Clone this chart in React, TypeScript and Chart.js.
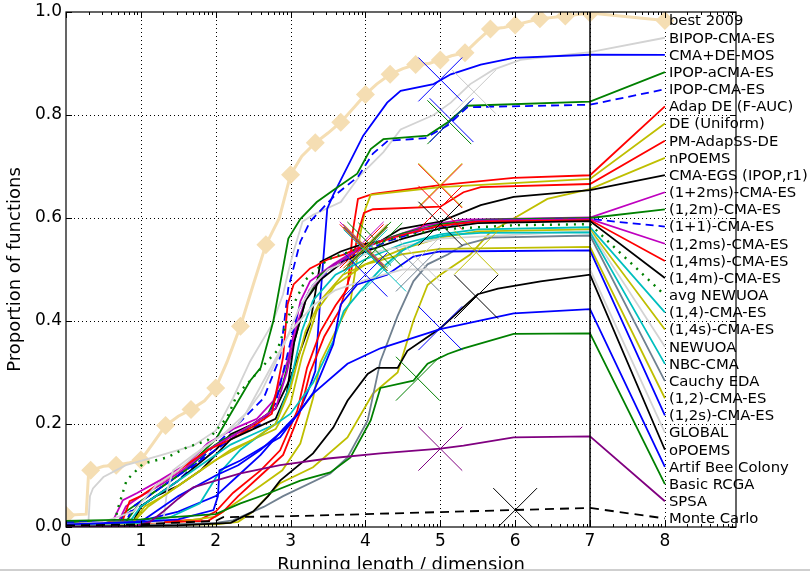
import React, { useEffect, useRef } from "react";
import { Chart, registerables } from "chart.js";
Chart.register(...registerables);

const FONT = "'DejaVu Sans', 'Liberation Sans', sans-serif";

const algorithms = [
  "best 2009", "BIPOP-CMA-ES", "CMA+DE-MOS", "IPOP-aCMA-ES", "IPOP-CMA-ES",
  "Adap DE (F-AUC)", "DE (Uniform)", "PM-AdapSS-DE", "nPOEMS", "CMA-EGS (IPOP,r1)",
  "(1+2ms)-CMA-ES", "(1,2m)-CMA-ES", "(1+1)-CMA-ES", "(1,2ms)-CMA-ES", "(1,4ms)-CMA-ES",
  "(1,4m)-CMA-ES", "avg NEWUOA", "(1,4)-CMA-ES", "(1,4s)-CMA-ES", "NEWUOA",
  "NBC-CMA", "Cauchy EDA", "(1,2)-CMA-ES", "(1,2s)-CMA-ES", "GLOBAL",
  "oPOEMS", "Artif Bee Colony", "Basic RCGA", "SPSA", "Monte Carlo",
];

const xTicks = [0, 1, 2, 3, 4, 5, 6, 7, 8];
const yTicks = [0, 0.2, 0.4, 0.6, 0.8, 1.0];

const best2009 = [[0,0.023],[0.27,0.025],[0.3,0.10],[0.33,0.11],[0.5,0.118],[0.67,0.12],[0.85,0.125],[1.0,0.13],[1.15,0.16],[1.33,0.197],[1.5,0.215],[1.67,0.228],[1.85,0.245],[2.0,0.27],[2.15,0.32],[2.33,0.39],[2.5,0.47],[2.67,0.548],[2.85,0.6],[3.0,0.684],[3.15,0.72],[3.33,0.746],[3.5,0.765],[3.67,0.786],[3.85,0.815],[4.0,0.84],[4.15,0.86],[4.33,0.879],[4.5,0.89],[4.67,0.898],[4.85,0.9],[5.0,0.907],[5.15,0.915],[5.33,0.921],[5.5,0.945],[5.67,0.967],[5.85,0.97],[6.0,0.975],[6.33,0.987],[6.67,0.992],[7.0,0.998]];
const bipop = [[0,0.01],[0.3,0.01],[0.32,0.06],[0.36,0.075],[0.5,0.097],[0.8,0.12],[1.26,0.139],[1.7,0.158],[2.0,0.187],[2.23,0.25],[2.46,0.322],[2.75,0.393],[2.9,0.452],[2.97,0.496],[3.04,0.535],[3.16,0.593],[3.3,0.606],[3.67,0.631],[3.93,0.683],[4.24,0.728],[4.47,0.772],[4.91,0.8],[5.14,0.824],[5.4,0.86],[5.71,0.888],[6.07,0.907],[7,0.922]];
const cmaDeMos = [[0,0.01],[1.0,0.012],[1.5,0.03],[2.0,0.06],[2.3,0.1],[2.6,0.14],[2.9,0.19],[3.1,0.22],[3.25,0.27],[3.33,0.303],[3.4,0.45],[3.49,0.618],[3.57,0.645],[3.97,0.76],[4.29,0.824],[4.47,0.847],[4.91,0.86],[5.14,0.879],[5.54,0.898],[5.98,0.911],[7,0.917]];
const ipopACma = [[0,0.01],[0.7,0.01],[0.8,0.03],[1.0,0.05],[1.5,0.1],[2.0,0.17],[2.2,0.22],[2.46,0.284],[2.6,0.309],[2.77,0.4],[2.82,0.44],[2.97,0.56],[3.13,0.598],[3.35,0.631],[3.57,0.654],[3.89,0.686],[4.07,0.734],[4.24,0.753],[4.83,0.76],[5.1,0.786],[5.36,0.818],[7,0.826]];
const ipopCma = [[0,0.01],[0.7,0.01],[0.8,0.025],[1.0,0.04],[1.5,0.09],[2.0,0.16],[2.3,0.2],[2.64,0.25],[2.86,0.33],[2.97,0.464],[3.13,0.554],[3.26,0.593],[3.5,0.63],[3.6,0.645],[3.9,0.68],[4.1,0.725],[4.3,0.75],[4.8,0.755],[5.1,0.78],[5.36,0.815],[7,0.82]];
const adapDe = [[0,0.005],[1.0,0.008],[1.8,0.015],[2.0,0.03],[2.23,0.066],[2.6,0.11],[2.86,0.149],[3.09,0.226],[3.22,0.309],[3.4,0.38],[3.6,0.43],[3.76,0.463],[3.83,0.573],[3.9,0.637],[4.1,0.647],[5.0,0.664],[5.98,0.678],[7,0.683]];
const deUniform = [[0,0.005],[1.5,0.01],[2.0,0.02],[2.3,0.05],[2.6,0.08],[2.89,0.11],[3.13,0.162],[3.3,0.25],[3.4,0.32],[3.6,0.38],[3.8,0.438],[3.87,0.502],[3.93,0.568],[4.0,0.618],[4.07,0.645],[5.0,0.66],[7,0.676]];
const pmAdapSs = [[0,0.005],[1.0,0.008],[1.9,0.012],[2.1,0.03],[2.3,0.06],[2.6,0.1],[2.9,0.14],[3.12,0.22],[3.26,0.3],[3.45,0.37],[3.65,0.42],[3.8,0.49],[3.9,0.57],[3.98,0.61],[4.1,0.617],[5.0,0.622],[5.31,0.65],[5.54,0.66],[7,0.666]];
const nPoems = [[0,0.002],[1.0,0.004],[2.0,0.005],[2.3,0.01],[2.5,0.03],[2.86,0.085],[3.3,0.116],[3.76,0.174],[4.1,0.259],[4.43,0.3],[4.64,0.4],[4.83,0.47],[5.0,0.49],[5.4,0.529],[5.67,0.573],[5.98,0.599],[6.43,0.637],[7,0.656]];
const cmaEgs = [[0,0.005],[0.9,0.01],[1.0,0.04],[1.5,0.09],[2.0,0.15],[2.2,0.18],[2.5,0.2],[2.8,0.23],[3.0,0.29],[3.15,0.35],[3.26,0.394],[3.4,0.515],[3.67,0.535],[3.93,0.548],[4.2,0.555],[4.47,0.579],[5.0,0.593],[5.54,0.625],[5.98,0.641],[7,0.654]];
const cma1p2ms = [[0,0.005],[0.6,0.01],[0.63,0.013],[0.76,0.052],[0.95,0.066],[1.26,0.091],[1.62,0.123],[1.89,0.162],[2.23,0.19],[2.55,0.21],[2.77,0.245],[2.96,0.322],[3.04,0.374],[3.13,0.438],[3.26,0.477],[3.57,0.51],[3.84,0.535],[4.29,0.56],[4.8,0.585],[5.3,0.597],[7,0.601]];
const cma12m = [[0,0.005],[0.8,0.01],[1.0,0.05],[1.3,0.08],[1.6,0.11],[1.9,0.15],[2.1,0.17],[2.4,0.19],[2.7,0.22],[2.9,0.28],[3.05,0.36],[3.2,0.44],[3.4,0.49],[3.7,0.52],[4.0,0.545],[4.5,0.57],[5.0,0.588],[5.6,0.597],[7,0.6]];
const cma1p1 = [[0,0.005],[0.8,0.01],[0.9,0.04],[1.2,0.07],[1.5,0.1],[1.8,0.13],[2.0,0.15],[2.3,0.18],[2.6,0.2],[2.8,0.24],[2.95,0.33],[3.1,0.42],[3.3,0.47],[3.6,0.51],[3.9,0.53],[4.3,0.555],[4.8,0.578],[5.5,0.595],[7,0.598]];
const cma12ms = [[0,0.005],[0.7,0.01],[0.8,0.04],[1.0,0.06],[1.3,0.085],[1.6,0.115],[1.9,0.15],[2.2,0.175],[2.5,0.2],[2.8,0.23],[2.95,0.3],[3.1,0.4],[3.25,0.46],[3.5,0.5],[3.8,0.53],[4.2,0.555],[4.8,0.58],[5.5,0.595],[7,0.598]];
const cma14ms = [[0,0.005],[0.75,0.01],[0.85,0.05],[1.0,0.06],[1.3,0.09],[1.6,0.12],[1.9,0.15],[2.2,0.17],[2.5,0.195],[2.75,0.22],[2.9,0.33],[2.96,0.432],[3.04,0.471],[3.26,0.502],[3.49,0.519],[3.71,0.529],[3.89,0.541],[4.2,0.554],[4.5,0.567],[5.0,0.585],[5.5,0.593],[7,0.596]];
const cma14m = [[0,0.005],[0.9,0.01],[1.0,0.04],[1.2,0.06],[1.5,0.08],[1.8,0.11],[2.0,0.14],[2.2,0.17],[2.5,0.19],[2.8,0.21],[2.95,0.26],[3.05,0.36],[3.2,0.44],[3.4,0.48],[3.7,0.515],[4.0,0.535],[4.5,0.56],[5.0,0.58],[5.5,0.59],[7,0.594]];
const avgNewuoa = [[0,0.005],[0.65,0.01],[0.7,0.039],[0.81,0.091],[1.03,0.123],[1.35,0.135],[1.62,0.155],[1.89,0.168],[2.15,0.212],[2.29,0.258],[2.46,0.284],[2.69,0.322],[2.82,0.342],[3.0,0.42],[3.2,0.48],[3.5,0.52],[4.0,0.545],[4.5,0.565],[5.0,0.578],[6.0,0.586],[7,0.588]];
const cma14 = [[0,0.005],[0.85,0.01],[1.0,0.04],[1.3,0.07],[1.6,0.1],[1.9,0.13],[2.2,0.16],[2.5,0.18],[2.8,0.2],[3.0,0.28],[3.15,0.38],[3.3,0.44],[3.6,0.49],[4.0,0.52],[4.5,0.55],[5.0,0.568],[5.5,0.578],[7,0.582]];
const cma14s = [[0,0.005],[0.9,0.01],[1.05,0.04],[1.3,0.06],[1.6,0.09],[1.9,0.12],[2.2,0.15],[2.5,0.17],[2.8,0.19],[3.0,0.24],[3.15,0.33],[3.35,0.42],[3.6,0.47],[4.0,0.51],[4.5,0.54],[5.0,0.562],[5.5,0.574],[7,0.578]];
const newuoa = [[0,0.005],[1.3,0.01],[1.35,0.07],[1.43,0.11],[1.7,0.14],[2.0,0.17],[2.3,0.2],[2.6,0.26],[2.9,0.35],[3.1,0.42],[3.3,0.47],[3.5,0.5],[4.0,0.53],[5.0,0.56],[7,0.575]];
const nbcCma = [[0,0.005],[1.0,0.008],[1.39,0.019],[1.79,0.046],[2.02,0.1],[2.33,0.15],[2.7,0.19],[3.0,0.22],[3.3,0.28],[3.57,0.361],[3.71,0.419],[3.93,0.458],[4.2,0.5],[4.47,0.535],[4.78,0.558],[5.1,0.567],[5.54,0.571],[7,0.572]];
const cauchyEda = [[0,0.002],[1.0,0.003],[2.0,0.008],[2.23,0.013],[2.64,0.039],[2.9,0.06],[3.53,0.104],[3.76,0.135],[4.03,0.207],[4.2,0.322],[4.43,0.41],[4.64,0.477],[4.83,0.51],[5.1,0.529],[5.31,0.548],[5.67,0.562],[7,0.566]];
const cma12 = [[0,0.005],[0.9,0.01],[1.1,0.04],[1.5,0.08],[2.0,0.13],[2.5,0.17],[2.8,0.2],[3.0,0.27],[3.2,0.38],[3.4,0.44],[3.7,0.49],[4.0,0.51],[4.5,0.53],[5.0,0.54],[7,0.544]];
const cma12s = [[0,0.005],[1.0,0.01],[1.2,0.03],[1.5,0.06],[2.0,0.1],[2.3,0.12],[2.6,0.15],[3.0,0.2],[3.3,0.26],[3.44,0.309],[3.57,0.355],[3.67,0.432],[3.89,0.471],[4.29,0.49],[4.64,0.525],[5.0,0.535],[7,0.537]];
const globalAlg = [[0,0.005],[0.5,0.01],[0.9,0.03],[1.2,0.08],[1.5,0.11],[1.8,0.15],[2.1,0.18],[2.4,0.22],[2.7,0.3],[3.0,0.38],[3.3,0.43],[3.6,0.46],[4.0,0.48],[4.5,0.5],[7,0.5]];
const oPoems = [[0,0.0],[1.5,0.003],[2.2,0.008],[2.5,0.03],[2.7,0.06],[2.86,0.09],[3.3,0.143],[3.57,0.193],[3.76,0.245],[4.03,0.297],[4.16,0.309],[4.43,0.309],[4.56,0.342],[5.0,0.386],[5.5,0.452],[5.77,0.463],[6.34,0.477],[7,0.49]];
const beeColony = [[0,0.005],[1.0,0.01],[1.5,0.015],[1.97,0.033],[2.03,0.06],[2.05,0.11],[2.33,0.129],[2.69,0.16],[2.86,0.174],[3.3,0.259],[3.76,0.317],[4.2,0.347],[5.0,0.384],[5.98,0.415],[7,0.423]];
const basicRcga = [[0,0.012],[1.0,0.015],[2.0,0.025],[2.33,0.046],[2.7,0.065],[3.13,0.09],[3.53,0.106],[3.8,0.135],[4.07,0.207],[4.2,0.27],[4.64,0.284],[4.83,0.317],[5.1,0.336],[5.31,0.347],[5.98,0.375],[7,0.376]];
const spsa = [[0,0.0],[0.9,0.0],[1.0,0.005],[1.12,0.01],[1.3,0.03],[1.5,0.055],[1.7,0.077],[2.02,0.091],[2.33,0.104],[2.86,0.12],[3.5,0.133],[4.2,0.143],[5.0,0.152],[5.31,0.158],[5.98,0.174],[7,0.176]];
const monteCarlo = [[0,0.003],[1.0,0.005],[2.0,0.012],[2.1,0.019],[3.0,0.021],[4.0,0.025],[5.0,0.029],[6.0,0.033],[7,0.037]];

const seriesValues = [
  best2009, bipop, cmaDeMos, ipopACma, ipopCma, adapDe, deUniform, pmAdapSs, nPoems, cmaEgs,
  cma1p2ms, cma12m, cma1p1, cma12ms, cma14ms, cma14m, avgNewuoa, cma14, cma14s, newuoa,
  nbcCma, cauchyEda, cma12, cma12s, globalAlg, oPoems, beeColony, basicRcga, spsa, monteCarlo,
];

// median of maximal run length marker per algorithm (x, y), null if none
const crossMarks = [
  null, [5.45,0.845], [5.0,0.869], [5.12,0.786], [5.15,0.79], [5.0,0.662], [5.0,0.664], [5.0,0.62], [5.48,0.533], [5.0,0.589],
  [3.95,0.55], [4.2,0.548], [4.0,0.54], [4.0,0.545], [3.95,0.545], [4.0,0.54], [4.05,0.55], [4.25,0.5], [4.0,0.545], [4.7,0.52],
  [4.0,0.535], [4.7,0.5], [4.0,0.54], [4.0,0.49], null, [5.48,0.447], [5.0,0.386], [4.7,0.288], [5.0,0.152], [6.0,0.033],
];

const colors = [
  "#F5DEB3", "#D3D3D3", "#0000FF", "#008000", "#0000FF", "#FF0000", "#BFBF00", "#FF0000", "#BFBF00", "#000000",
  "#BF00BF", "#008000", "#0000FF", "#BF00BF", "#FF0000", "#000000", "#008000", "#00BFBF", "#BFBF00", "#D3D3D3",
  "#00BFBF", "#708090", "#BFBF00", "#0000FF", "#D3D3D3", "#000000", "#0000FF", "#008000", "#800080", "#000000",
];
const dashStyles: Record<number, number[]> = { 4: [8, 5], 12: [8, 5], 16: [2, 6], 29: [9, 6] };

const isThird = (v: number) => Math.abs(v * 3 - Math.round(v * 3)) < 0.03;

const decor = {
  id: "decor",
  beforeDatasetsDraw(chart: any) {
    const { ctx, chartArea: a, scales } = chart;
    const x = scales.x, y = scales.y;
    ctx.save();
    ctx.strokeStyle = "#000";
    ctx.lineWidth = 1;
    ctx.setLineDash([1, 3]);
    for (const v of xTicks) {
      if (v === 0) continue;
      const px = Math.round(x.getPixelForValue(v)) + 0.5;
      ctx.beginPath(); ctx.moveTo(px, a.top); ctx.lineTo(px, a.bottom); ctx.stroke();
    }
    for (const v of yTicks) {
      if (v === 0 || v === 1) continue;
      const py = Math.round(y.getPixelForValue(v)) + 0.5;
      ctx.beginPath(); ctx.moveTo(a.left, py); ctx.lineTo(a.right, py); ctx.stroke();
    }
    ctx.restore();
  },
  afterDatasetsDraw(chart: any) {
    const { ctx, chartArea: a, scales } = chart;
    const x = scales.x, y = scales.y;
    ctx.save();
    ctx.strokeStyle = "#000";
    ctx.setLineDash([]);
    ctx.lineWidth = 1.5;
    const p7 = x.getPixelForValue(7);
    ctx.beginPath(); ctx.moveTo(p7, a.top); ctx.lineTo(p7, a.bottom); ctx.stroke();
    ctx.lineWidth = 1.2;
    ctx.strokeRect(a.left, a.top, a.right - a.left, a.bottom - a.top);
    ctx.lineWidth = 1;
    const xmax = x.max;
    for (let n = 0; n <= 8; n++) {
      const pm = Math.round(x.getPixelForValue(n)) + 0.5;
      ctx.beginPath();
      ctx.moveTo(pm, a.bottom); ctx.lineTo(pm, a.bottom - 6);
      ctx.moveTo(pm, a.top); ctx.lineTo(pm, a.top + 6);
      ctx.stroke();
      for (let k = 2; k <= 9; k++) {
        const v = n + Math.log10(k);
        if (v >= xmax) break;
        const pn = Math.round(x.getPixelForValue(v)) + 0.5;
        ctx.beginPath();
        ctx.moveTo(pn, a.bottom); ctx.lineTo(pn, a.bottom - 3);
        ctx.moveTo(pn, a.top); ctx.lineTo(pn, a.top + 3);
        ctx.stroke();
      }
    }
    for (const v of yTicks) {
      const py = Math.round(y.getPixelForValue(v)) + 0.5;
      ctx.beginPath();
      ctx.moveTo(a.left, py); ctx.lineTo(a.left + 6, py);
      ctx.moveTo(a.right, py); ctx.lineTo(a.right - 6, py);
      ctx.stroke();
    }
    ctx.restore();
  },
  afterDraw(chart: any) {
    const { ctx, scales } = chart;
    const x = scales.x, y = scales.y;
    ctx.save();
    ctx.fillStyle = "#000";
    // size the label font so that the longest label spans ~139px, as in the reference
    ctx.font = `15px ${FONT}`;
    const w = ctx.measureText("CMA-EGS (IPOP,r1)").width || 139;
    const size = Math.max(12, Math.min(19, (15 * 139) / w));
    ctx.font = `${size.toFixed(2)}px ${FONT}`;
    ctx.textAlign = "left";
    ctx.textBaseline = "middle";
    const lx = x.getPixelForValue(8) + 4;
    algorithms.forEach((name, i) => {
      const ly = y.getPixelForValue(1 - (i + 0.5) / algorithms.length);
      ctx.fillText(name, lx, ly + 1);
    });
    ctx.restore();
  },
};

export default function App() {
  const ref = useRef<HTMLCanvasElement | null>(null);
  useEffect(() => {
    const canvas = ref.current;
    if (!canvas) return;
    Chart.defaults.font.family = FONT;
    const n = algorithms.length;
    const lines = seriesValues.map((pts, i) => {
      const data = pts.map(([px, py]) => ({ x: px, y: py }));
      data.push({ x: 8, y: 1 - (i + 0.5) / n });
      const ds: any = {
        label: algorithms[i],
        data,
        borderColor: colors[i],
        backgroundColor: colors[i],
        borderWidth: i === 0 ? 3 : i === 16 ? 2.4 : 1.8,
        borderDash: dashStyles[i] || [],
        pointRadius: 0,
        tension: 0,
        fill: false,
      };
      if (i === 0) {
        ds.pointStyle = "rectRot";
        ds.pointRadius = (c: any) => (c.raw && isThird(c.raw.x) ? 9.5 : 0);
        ds.pointBackgroundColor = colors[0];
        ds.pointBorderColor = colors[0];
        ds.pointBorderWidth = 0;
      }
      return ds;
    });
    const crossPts: any[] = [];
    const crossCols: string[] = [];
    crossMarks.forEach((c, i) => {
      if (c) { crossPts.push({ x: c[0], y: c[1] }); crossCols.push(colors[i] === "#D3D3D3" ? "#C8C8C8" : colors[i]); }
    });
    const crossDs = {
      label: "crosses",
      data: crossPts,
      showLine: false,
      pointStyle: "crossRot",
      pointRadius: 31,
      pointBorderWidth: 1,
      pointBorderColor: crossCols,
      pointBackgroundColor: crossCols,
      borderColor: "transparent",
    };
    const datasets = [crossDs, ...lines.slice().reverse()];
    const chart = new Chart(canvas, {
      type: "line",
      data: { datasets },
      options: {
        responsive: false,
        animation: false,
        devicePixelRatio: 1,
        events: [],
        layout: { padding: { top: 29, right: 74, bottom: 0, left: 0 } },
        plugins: { legend: { display: false }, tooltip: { enabled: false } },
        scales: {
          x: {
            type: "linear",
            min: 0,
            max: 8.95,
            afterFit: (s: any) => { s.height = 49; },
            afterBuildTicks: (s: any) => { s.ticks = xTicks.map((v) => ({ value: v })); },
            grid: { display: false, drawTicks: false },
            border: { display: false },
            ticks: { color: "#000", font: { family: FONT, size: 17 }, padding: 4, maxRotation: 0, autoSkip: false, callback: (v: any) => String(v) },
            title: { display: true, text: "Running length / dimension", color: "#000", font: { family: FONT, size: 18 }, padding: { top: 0, bottom: 0 } },
          },
          y: {
            type: "linear",
            min: 0,
            max: 1,
            afterFit: (s: any) => { s.width = 66; },
            afterBuildTicks: (s: any) => { s.ticks = yTicks.map((v) => ({ value: v })); },
            grid: { display: false, drawTicks: false },
            border: { display: false },
            ticks: { color: "#000", font: { family: FONT, size: 17 }, padding: 4, callback: (v: any) => Number(v).toFixed(1) },
            title: { display: true, text: "Proportion of functions", color: "#000", font: { family: FONT, size: 18 }, padding: { top: 5, bottom: 0 } },
          },
        },
      },
      plugins: [decor],
    } as any);
    return () => chart.destroy();
  }, []);
  return (
    <div style={{ position: "fixed", left: 0, top: 0, width: 810, height: 571, overflow: "hidden", background: "#fff" }}>
      <canvas ref={ref} width={810} height={596} style={{ position: "absolute", left: 0, top: -20, width: 810, height: 596 }} />
      <div style={{ position: "absolute", left: 0, top: 569, width: 810, height: 2, background: "#cfcfcf" }} />
    </div>
  );
}
